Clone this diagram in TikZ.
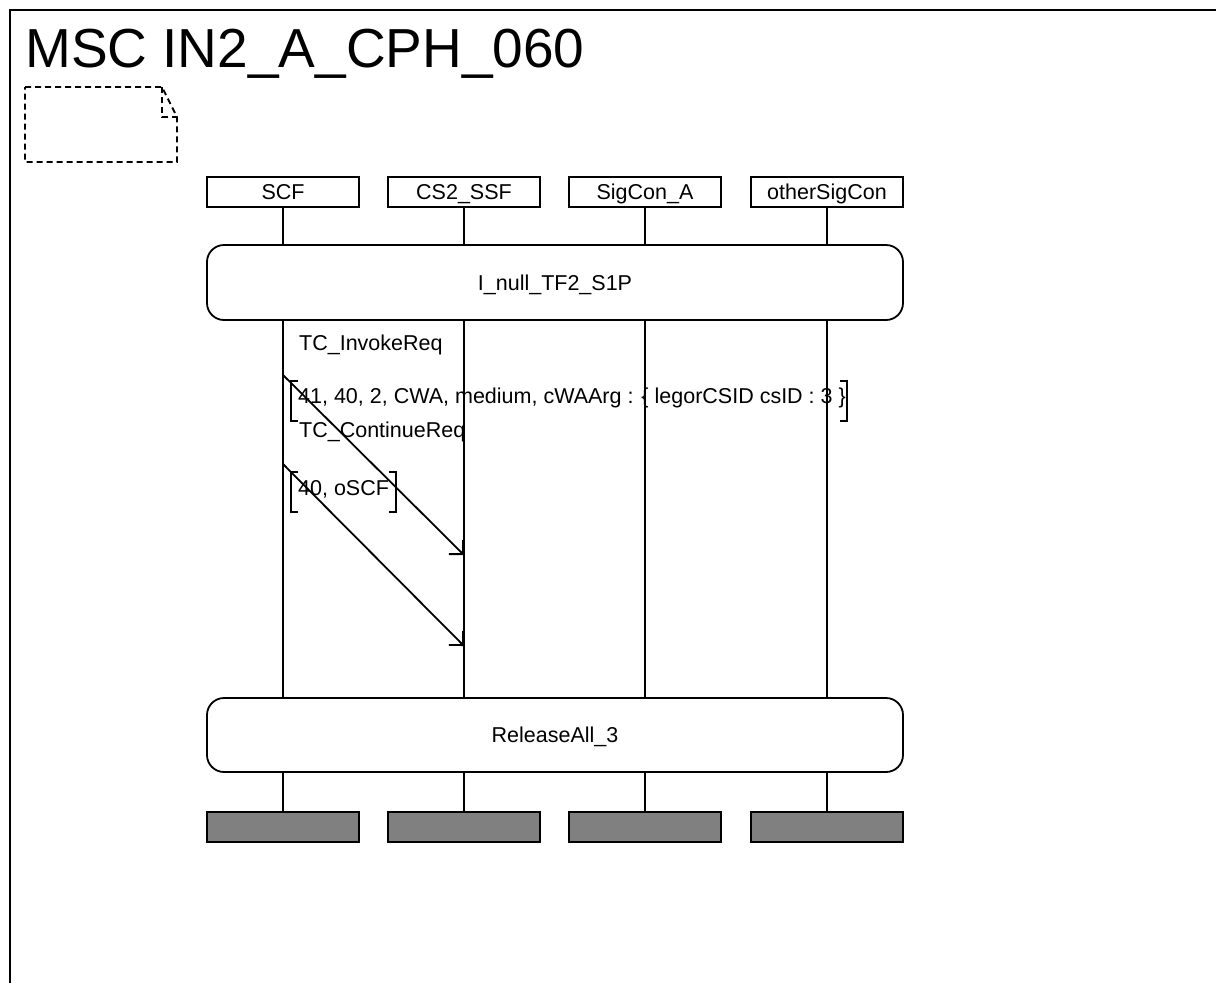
\documentclass[tikz,border=0pt]{standalone}
\usepackage{fontspec}
\setmainfont{Liberation Sans}
\usetikzlibrary{arrows.meta}
\begin{document}
\begin{tikzpicture}[x=1pt,y=-1pt,
  txt/.style={font=\fontsize{21.5}{24}\selectfont},
  inst/.style={draw, line width=1.8pt, minimum width=152pt, minimum height=30pt, inner sep=0pt, text height=15.5pt, text depth=0pt, txt},
  endbox/.style={draw, fill=gray, line width=1.8pt, minimum width=152pt, minimum height=30pt, inner sep=0pt},
  refbox/.style={draw, line width=1.8pt, rounded corners=17pt, minimum width=696pt, inner sep=0pt, text height=15.5pt, text depth=0pt, txt},
  life/.style={line width=1.8pt},
  msg/.style={line width=1.8pt, -{Straight Barb[length=10pt,width=20pt]}},
  lbl/.style={anchor=base west, inner sep=0pt, txt},
  brk/.style={line width=1.8pt},
  cmt/.style={line width=1.8pt, dash pattern=on 6pt off 4pt},
]
\useasboundingbox (0,0) rectangle (1216,983);
\fill[white] (0,0) rectangle (1216,983);
% frame
\draw[line width=2pt] (10,983) -- (10,10) -- (1216,10);
\node[anchor=base west, inner sep=0pt, font=\fontsize{55}{60}\selectfont] (title) at (25,67) {MSC IN2\_A\_CPH\_060};
% comment symbol
\draw[cmt] (25,87) -- (162,87) -- (177,117) -- (177,162) -- (25,162) -- cycle;
\draw[cmt] (162,87) -- (162,117) -- (177,117);
% instances
\node[inst] (h1) at (283,192) {SCF};
\node[inst] (h2) at (464,192) {CS2\_SSF};
\node[inst] (h3) at (645,192) {SigCon\_A};
\node[inst] (h4) at (827,192) {otherSigCon};
% references
\node[refbox, minimum height=75pt] (r1) at (555,282.5) {I\_null\_TF2\_S1P};
\node[refbox, minimum height=74pt] (r2) at (555,735) {ReleaseAll\_3};
% ends
\node[endbox] (e1) at (283,827) {};
\node[endbox] (e2) at (464,827) {};
\node[endbox] (e3) at (645,827) {};
\node[endbox] (e4) at (827,827) {};
% lifelines
\foreach \i in {1,2,3,4}{
  \draw[life] (h\i.south) -- (h\i.south |- r1.north);
  \draw[life] (h\i.south |- r1.south) -- (h\i.south |- r2.north);
  \draw[life] (h\i.south |- r2.south) -- (e\i.north);
}
% messages
\coordinate (m1s) at (283,375);
\coordinate (m1e) at (464,555);
\coordinate (m2s) at (283,464);
\coordinate (m2e) at (464,646);
\draw[msg] (m1s) -- (m1e);
\draw[msg] (m2s) -- (m2e);
\node[lbl] (l1) at (299,350) {TC\_InvokeReq};
\node[lbl] (l2) at (299,437) {TC\_ContinueReq};
\node[lbl] (p1) at (298,403) {41, 40, 2, CWA, medium, cWAArg : \{ legorCSID csID : 3 \}};
\node[lbl] (p2) at (298,495) {40, oSCF};
% brackets
\draw[brk] (298,381) -- (291,381) -- (291,421) -- (298,421);
\draw[brk] (840,381) -- (847,381) -- (847,421) -- (840,421);
\draw[brk] (298,472) -- (291,472) -- (291,512) -- (298,512);
\draw[brk] (389,472) -- (396,472) -- (396,512) -- (389,512);
\end{tikzpicture}
\end{document}
